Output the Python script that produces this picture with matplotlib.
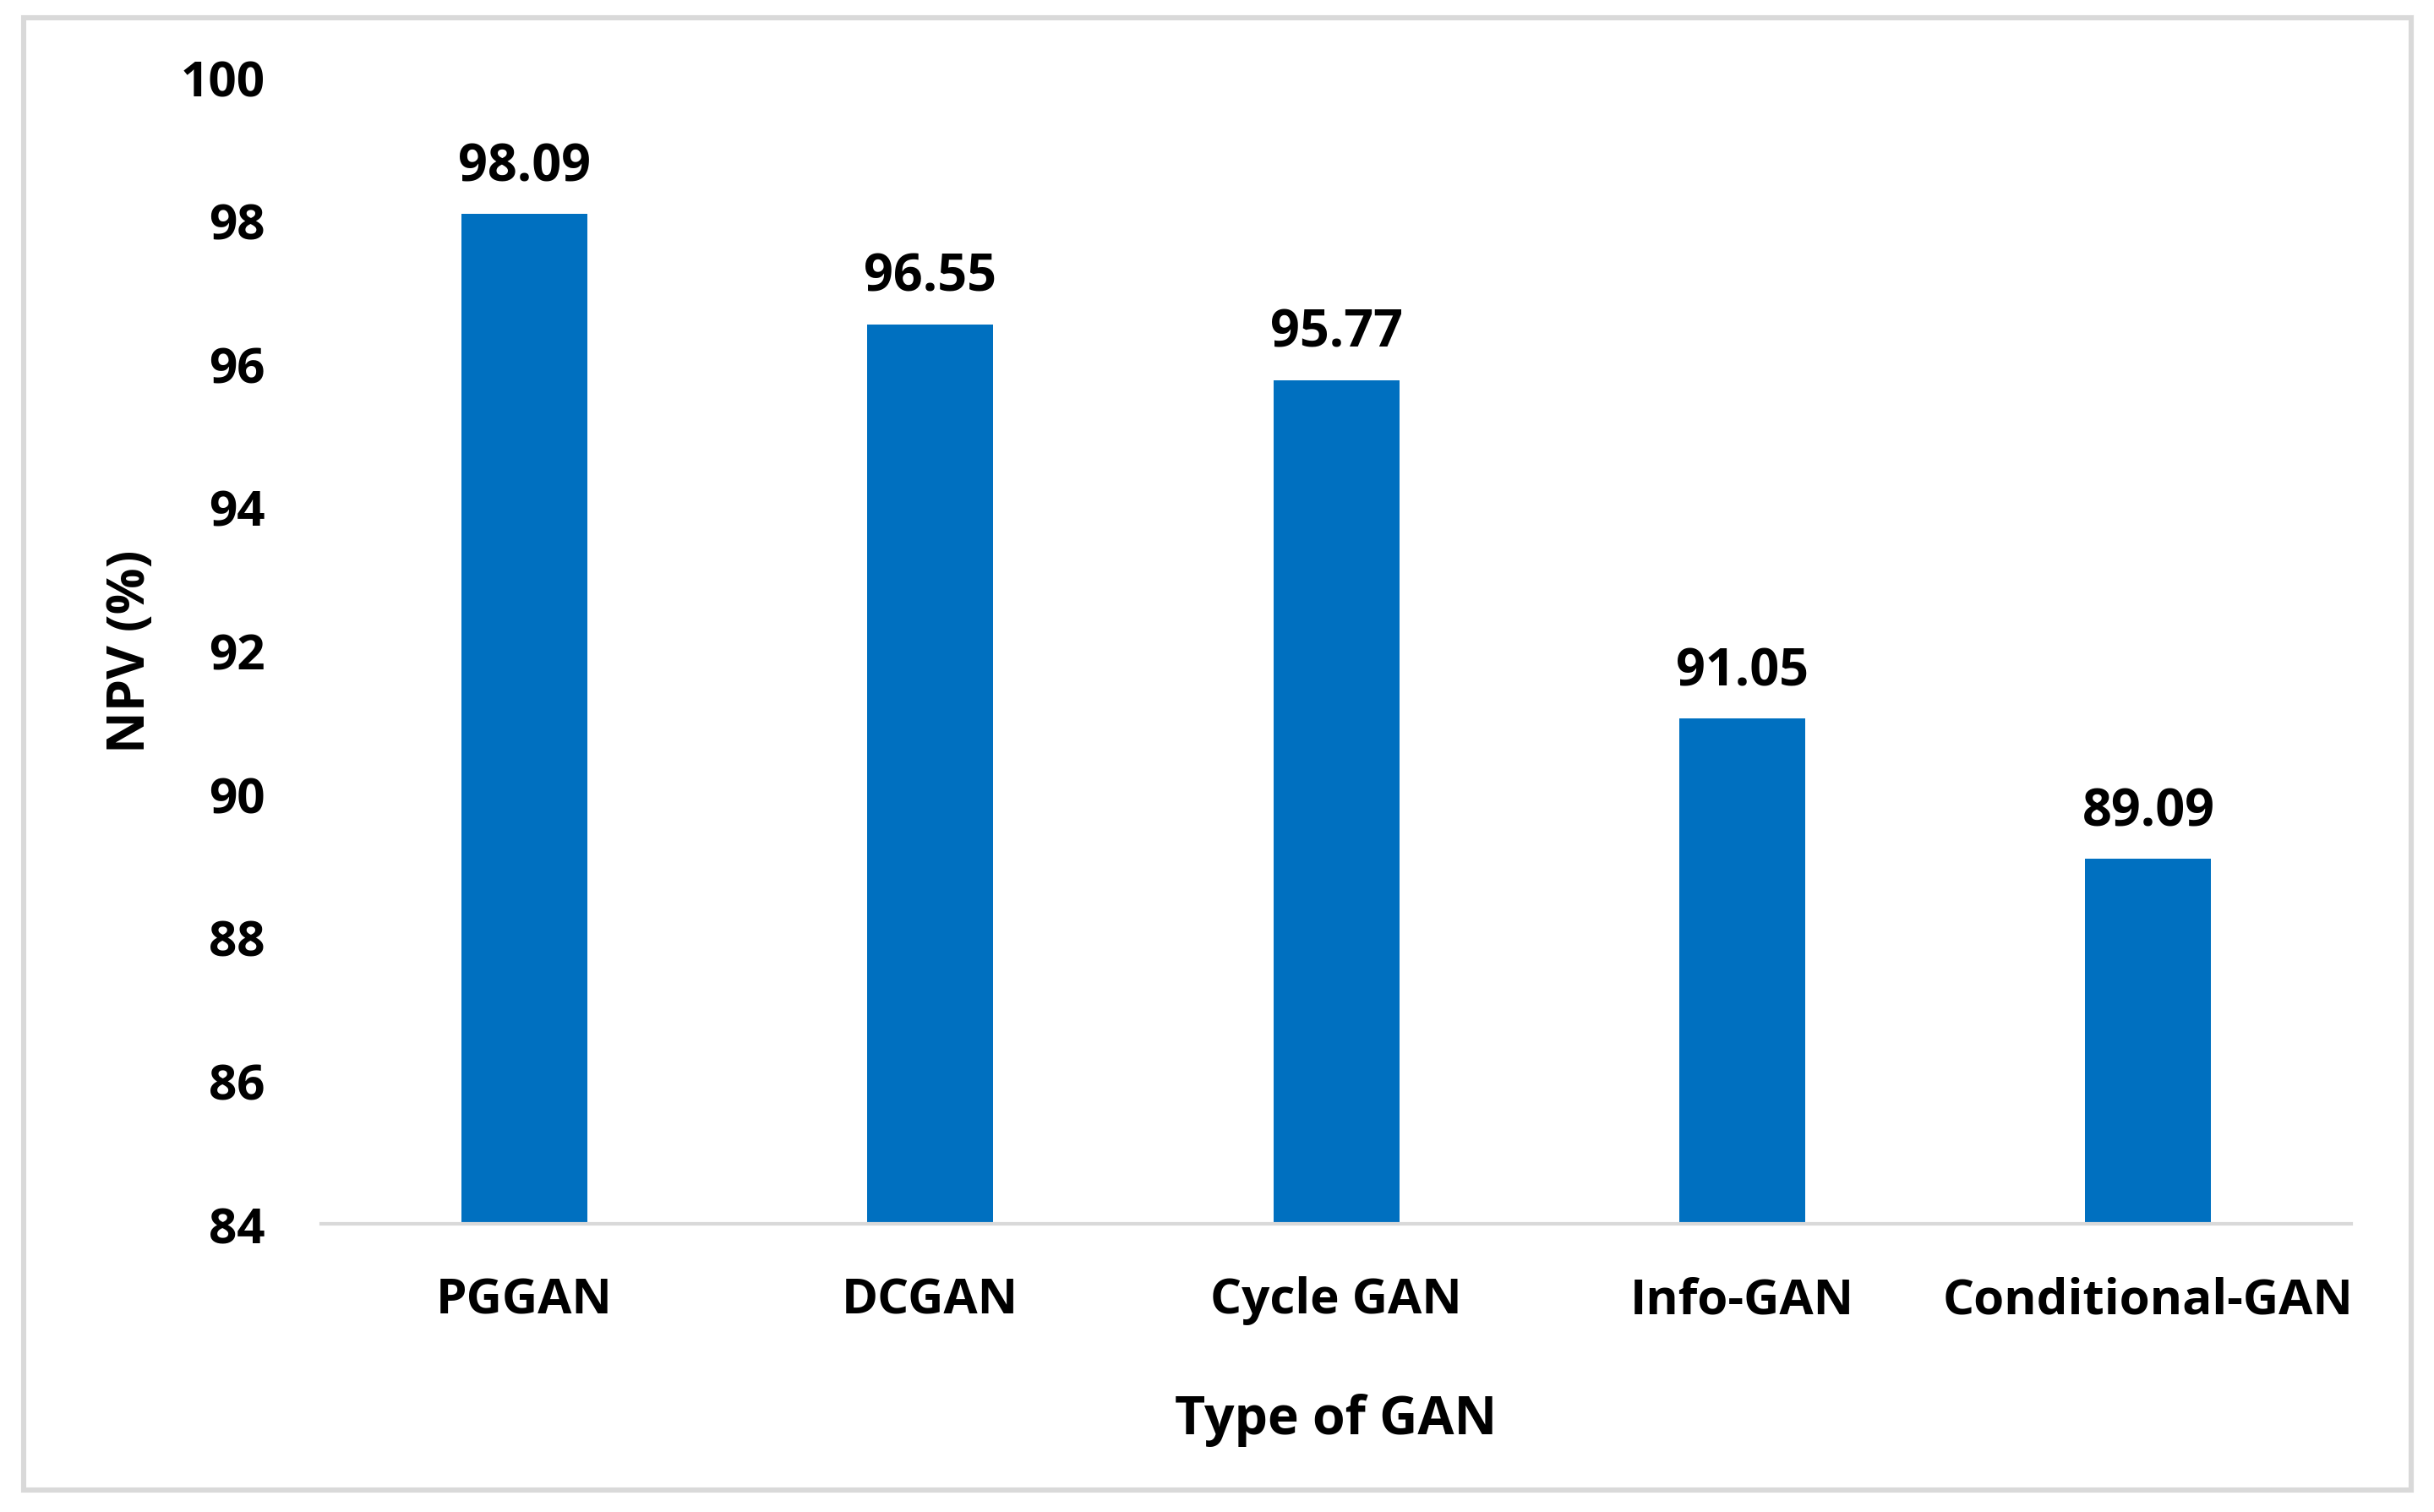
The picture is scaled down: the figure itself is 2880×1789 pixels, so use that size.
import matplotlib
matplotlib.use("Agg")
import matplotlib.pyplot as plt
from matplotlib.patches import Rectangle

# data
models = ["PGGAN", "DCGAN", "Cycle GAN", "Info-GAN", "Conditional-GAN"]
npv = [98.09, 96.55, 95.77, 91.05, 89.09]
yticks = [84, 86, 88, 90, 92, 94, 96, 98, 100]

BAR_COLOR = "#0070C0"
EDGE_GRAY = "#d9d9d9"

plt.rcParams["font.family"] = ["Open Sans", "DejaVu Sans"]
plt.rcParams["font.weight"] = "bold"

fig = plt.figure(figsize=(14.4, 8.95), dpi=200)
ax = fig.add_axes([0.132, 0.1905, 0.834, 0.758])

x = range(len(models))
ax.bar(x, npv, width=0.31, color=BAR_COLOR, zorder=2)

for xi, v in zip(x, npv):
    ax.annotate("%.2f" % v, (xi, v), xytext=(0, 9), textcoords="offset points",
                ha="center", va="bottom", fontsize=22, fontweight="bold")

ax.set_xlim(-0.5, len(models) - 0.5)
ax.set_ylim(84, 100)
ax.set_yticks(yticks)
ax.set_xticks(list(x))
ax.set_xticklabels(models)
ax.tick_params(axis="both", length=0, labelsize=21)
ax.tick_params(axis="x", pad=22)
ax.tick_params(axis="y", pad=24)
for lab in ax.get_xticklabels() + ax.get_yticklabels():
    lab.set_fontweight("bold")

for side in ["top", "right", "left"]:
    ax.spines[side].set_visible(False)
ax.spines["bottom"].set_color(EDGE_GRAY)
ax.spines["bottom"].set_linewidth(1.5)

ax.set_xlabel("Type of GAN", fontsize=22.5, fontweight="bold", labelpad=29)
ax.set_ylabel("NPV (%)", fontsize=22, fontweight="bold", labelpad=10)

# outer frame like the exported chart area
fig.patches.append(Rectangle((0.0097, 0.0145), 0.981, 0.973, transform=fig.transFigure,
                             fill=False, edgecolor=EDGE_GRAY, linewidth=2.2))

fig.savefig("out.png", dpi=200, facecolor="white")
